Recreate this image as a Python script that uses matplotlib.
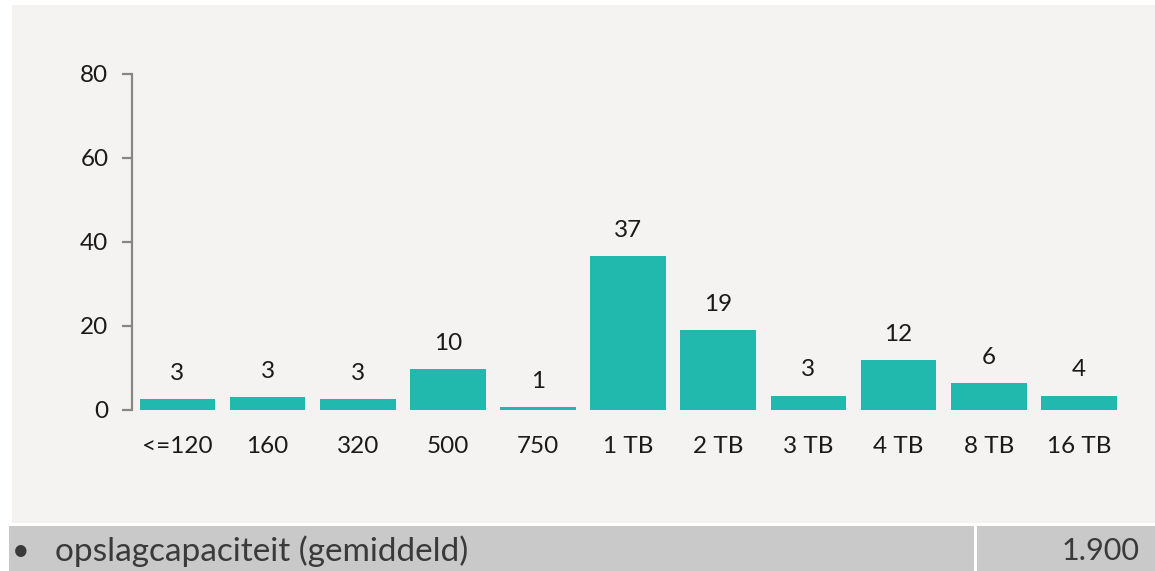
import matplotlib
matplotlib.use("Agg")
import matplotlib.pyplot as plt
from matplotlib.patches import Rectangle

categories = ["<=120", "160", "320", "500", "750", "1 TB", "2 TB", "3 TB", "4 TB", "8 TB", "16 TB"]
heights = [2.5, 3.0, 2.5, 9.7, 0.5, 36.6, 19.0, 3.3, 11.8, 6.2, 3.3]
value_labels = ["3", "3", "3", "10", "1", "37", "19", "3", "12", "6", "4"]
y_ticks = [0, 20, 40, 60, 80]
row_bullet = "•"
row_label = "opslagcapaciteit (gemiddeld)"
row_value = "1.900"

W, H = 1155, 571
plt.rcParams['font.family'] = ['Lato', 'DejaVu Sans']
fig = plt.figure(figsize=(W / 100, H / 100), dpi=100)
fig.patch.set_facecolor("white")

def fx(px):
    return px / W

def fy(py):
    return (H - py) / H

# chart panel background
fig.patches.append(Rectangle((fx(12), fy(522.7)), fx(1155 - 12), (522.7 - 5) / H,
                             transform=fig.transFigure, facecolor="#f4f3f2", edgecolor="none", zorder=-5))
# bottom row
fig.patches.append(Rectangle((fx(9), 0), fx(974.3 - 9), (571 - 526) / H,
                             transform=fig.transFigure, facecolor="#c9c9c9", edgecolor="none", zorder=-5))
fig.patches.append(Rectangle((fx(976.7), 0), fx(1155 - 976.7), (571 - 526) / H,
                             transform=fig.transFigure, facecolor="#c9c9c9", edgecolor="none", zorder=-5))

ax = fig.add_axes([fx(132.3), fy(409.5), fx(1124 - 132.3), (409.5 - 74) / H])
ax.set_zorder(5)
ax.set_facecolor("none")
x = list(range(len(categories)))
ax.bar(x, heights, width=0.84, color="#21b9ae", zorder=2)
ax.set_xlim(-0.5, len(categories) - 0.5)
ax.set_ylim(0, 80)
ax.set_yticks(y_ticks)
ax.set_xticks(x)
ax.set_xticklabels(categories)
for s in ["top", "right", "bottom"]:
    ax.spines[s].set_visible(False)
ax.spines["left"].set_color("#868686")
ax.spines["left"].set_linewidth(1.6)
ax.tick_params(axis="y", length=7.2, width=1.6, color="#868686", pad=10,
               labelsize=17.5, labelcolor="#1a1a1a")
ax.tick_params(axis="x", length=0, pad=19, labelsize=17.5, labelcolor="#1a1a1a")

for xi, h, lab in zip(x, heights, value_labels):
    ax.annotate(lab, (xi, h), xytext=(0, 11), textcoords="offset points",
                ha="center", va="bottom", fontsize=17.5, color="#1a1a1a")

fig.text(fx(21), fy(551), row_bullet, ha="center", va="center", fontsize=22, color="#3a3a3a")
fig.text(fx(55), fy(551), row_label, ha="left", va="center", fontsize=24, color="#3a3a3a")
fig.text(fx(1140), fy(551), row_value, ha="right", va="center", fontsize=22, color="#3a3a3a")

fig.savefig("out.png", dpi=100)
